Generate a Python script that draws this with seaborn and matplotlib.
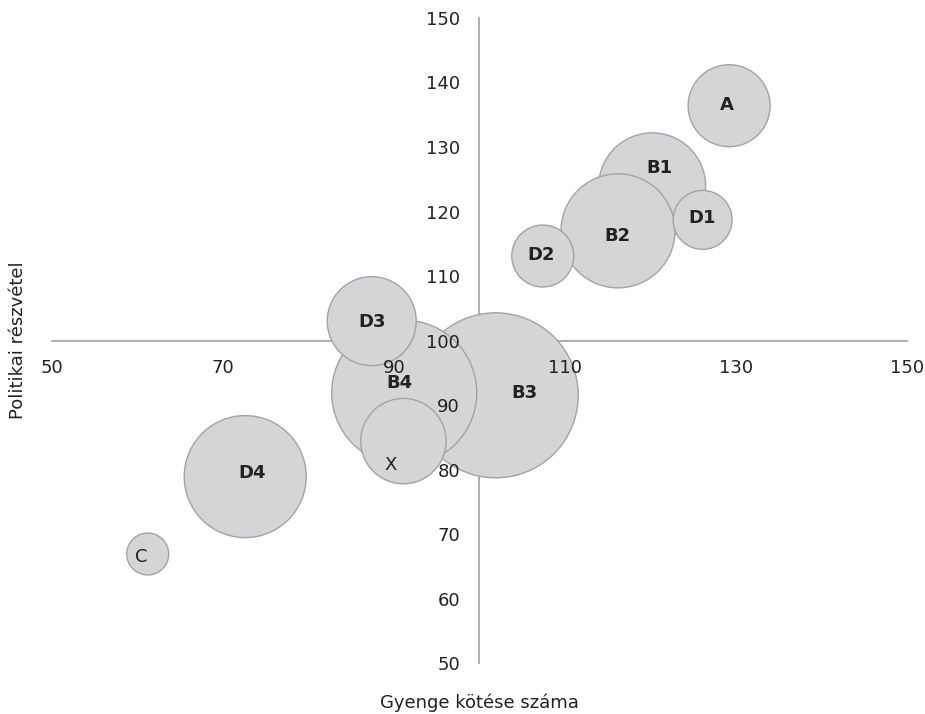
import matplotlib
matplotlib.use("Agg")
import matplotlib.pyplot as plt
import seaborn as sns
import pandas as pd

# ---- data ----
names = ["A", "B1", "B2", "B3", "B4", "C", "D1", "D2", "D3", "D4", "X"]
gyenge_kotes = [129.2, 120.2, 116.2, 101.9, 91.2, 61.2, 126.1, 107.4, 87.4, 72.6, 91.1]
politikai_reszvetel = [136.4, 123.9, 117.0, 91.5, 91.9, 66.9, 118.7, 113.1, 103.0, 78.9, 84.4]
bubble_value = [168, 286, 325, 681, 526, 44, 87, 96, 198, 372, 182]
bold_labels = ["A", "B1", "B2", "B3", "B4", "D1", "D2", "D3", "D4"]
# label positions (data units) as shown in the chart
label_x = [128.9, 121.1, 116.1, 105.3, 90.6, 60.4, 126.0, 107.2, 87.5, 73.4, 89.6]
label_y = [136.5, 126.8, 116.2, 91.9, 93.4, 66.5, 119.0, 113.3, 102.9, 79.5, 80.7]
x_ticks = [50, 70, 90, 110, 130, 150]
y_ticks = [50, 60, 70, 80, 90, 100, 110, 120, 130, 140, 150]

df = pd.DataFrame({"name": names, "x": gyenge_kotes, "y": politikai_reszvetel,
                   "v": bubble_value})

sns.set_style("white")
plt.rcParams["font.family"] = ["DejaVu Sans"]

fig = plt.figure(figsize=(9.25, 7.14), dpi=100)
ax = fig.add_axes([0.0562, 0.0714, 0.9243, 0.9034])

k = (1.44) ** 2 * 10  # area scale: value -> points^2
sns.scatterplot(data=df, x="x", y="y", size="v",
                sizes=(min(bubble_value) * k, max(bubble_value) * k),
                color="#d5d5d7", edgecolor="#a3a3a3", linewidth=1.0,
                alpha=1, legend=False, ax=ax, zorder=1)

for n, lx, ly in zip(names, label_x, label_y):
    ax.text(lx, ly, n, ha="center", va="center", fontsize=13,
            fontweight="bold" if n in bold_labels else "normal",
            color="#222222", zorder=5)

ax.set_xlim(50, 150)
ax.set_ylim(50, 150)
ax.set_xticks(x_ticks)
ax.set_yticks(y_ticks)
ax.tick_params(axis="both", length=0, labelsize=13, labelcolor="#222222")
ax.tick_params(axis="x", pad=13)
ax.tick_params(axis="y", pad=14)

for side in ["top", "right"]:
    ax.spines[side].set_visible(False)
ax.spines["bottom"].set_position(("data", 100))
ax.spines["left"].set_position(("data", 100))
for side in ["bottom", "left"]:
    ax.spines[side].set_color("#a8a8a8")
    ax.spines[side].set_linewidth(1.3)
    ax.spines[side].set_zorder(0.5)
ax.xaxis.set_zorder(4)
ax.yaxis.set_zorder(4)

ax.set_xlabel("")
ax.set_ylabel("")
fig.text(0.5185, 1 - 703 / 714, "Gyenge kötése száma", ha="center", va="center",
         fontsize=13, color="#222222")
fig.text(18 / 925, 1 - 340 / 714, "Politikai részvétel", ha="center", va="center",
         rotation=90, fontsize=13, color="#222222")

fig.savefig("out.png", dpi=100)
